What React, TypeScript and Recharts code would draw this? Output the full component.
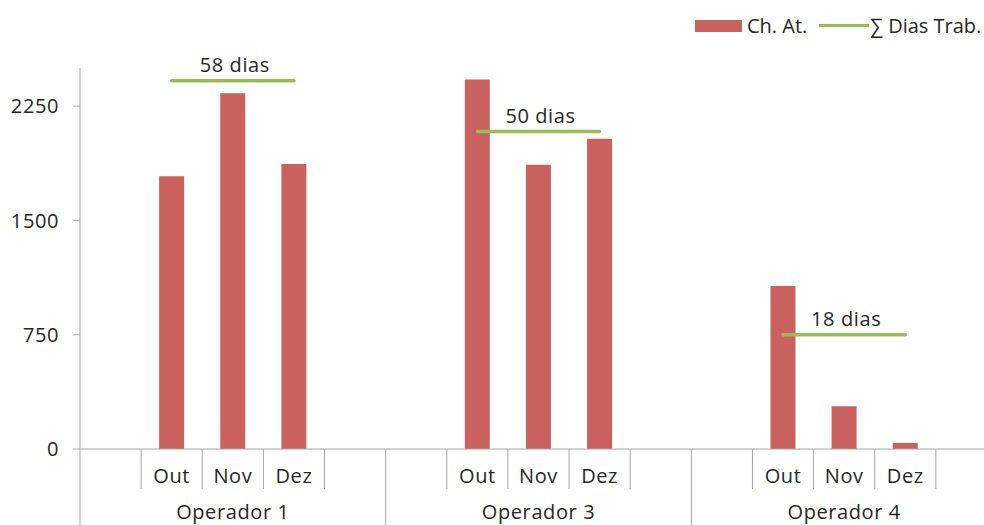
import { ComposedChart, Bar, Line, XAxis, YAxis, LabelList } from "recharts";

const operators = ["Operador 1", "Operador 3", "Operador 4"];
const months = ["Out", "Nov", "Dez"];
// Ch. At. per operator, Out/Nov/Dez
const chAt = [
  [1790, 2335, 1870],
  [2425, 1865, 2035],
  [1070, 280, 40],
];
const diasTrab = [58, 50, 18];
const yTicks = [0, 750, 1500, 2250];

// each operator gets a blank slot on both sides, like the Excel original
const rows = operators.flatMap((op, g) => [
  { key: `${op}-a`, month: "", op, chAt: null as number | null, dias: null as number | null },
  ...months.map((m, i) => ({
    key: `${op}-${m}`,
    month: m,
    op,
    chAt: chAt[g][i] as number | null,
    dias: diasTrab[g] as number | null,
  })),
  { key: `${op}-b`, month: "", op, chAt: null as number | null, dias: null as number | null },
]);

const WIDTH = 1000;
const HEIGHT = 525;
const margin = { top: 68, right: 3, left: 0, bottom: 0 };
const Y_AXIS_W = 80;
const X_AXIS_H = 76;
const BAND = (WIDTH - Y_AXIS_W - margin.left - margin.right) / rows.length;

const FONT = "'Open Sans', sans-serif";
const FS = 20;
const LS = 0.6;
const TEXT = "#262626";
const AXIS = "#A6A6A6";
const RED = "#C9625F";
const GREEN = "#9BBB59";

function GroupTick(props: any) {
  const { x, y, index } = props;
  const row = rows[index];
  const pos = index % 5;
  const left = x - BAND / 2;
  return (
    <g>
      <line x1={left} x2={left} y1={y} y2={pos === 0 ? y + X_AXIS_H : y + 40} stroke={AXIS} />
      {index === rows.length - 1 && (
        <line x1={x + BAND / 2} x2={x + BAND / 2} y1={y} y2={y + X_AXIS_H} stroke={AXIS} />
      )}
      {row.month && (
        <text x={x} y={y + 34} textAnchor="middle" fill={TEXT} fontSize={FS} letterSpacing={LS} fontFamily={FONT}>
          {row.month}
        </text>
      )}
      {pos === 2 && (
        <text x={x} y={y + 70} textAnchor="middle" fill={TEXT} fontSize={FS} letterSpacing={LS} fontFamily={FONT}>
          {row.op}
        </text>
      )}
    </g>
  );
}

function DiasLabel(props: any) {
  const { x, y, value, index } = props;
  if (value == null || index % 5 !== 2) return null;
  return (
    <text x={x + 2} y={y - 9} textAnchor="middle" fill={TEXT} fontSize={FS} letterSpacing={LS} fontFamily={FONT}>
      {`${value} dias`}
    </text>
  );
}

function ChartLegend() {
  return (
    <div
      style={{
        position: "absolute",
        top: 12,
        left: 695,
        display: "flex",
        alignItems: "center",
        fontFamily: FONT,
        fontSize: FS,
        color: TEXT,
        whiteSpace: "nowrap",
      }}
    >
      <span style={{ display: "inline-block", width: 47, height: 12, background: RED, marginRight: 5 }} />
      <span>Ch. At.</span>
      <span style={{ display: "inline-block", width: 50, height: 3, background: GREEN, margin: "0 1px 0 12px" }} />
      <span>∑ Dias Trab.</span>
    </div>
  );
}

export default function App() {
  return (
    <div
      style={{
        position: "fixed",
        top: 0,
        left: 0,
        width: 984,
        height: 525,
        overflow: "hidden",
        background: "#fff",
      }}
    >
      <ComposedChart width={WIDTH} height={HEIGHT} data={rows} margin={margin}>
        <XAxis
          dataKey="key"
          xAxisId={0}
          interval={0}
          height={X_AXIS_H}
          tickSize={0}
          tickMargin={0}
          tickLine={false}
          axisLine={{ stroke: AXIS }}
          tick={<GroupTick />}
        />
        <YAxis
          yAxisId="left"
          width={Y_AXIS_W}
          domain={[0, 2500]}
          ticks={yTicks}
          tickSize={7}
          tickMargin={14}
          axisLine={{ stroke: AXIS }}
          tickLine={{ stroke: AXIS }}
          tick={{ fill: TEXT, fontSize: FS, fontFamily: FONT, letterSpacing: LS }}
        />
        <YAxis yAxisId="right" orientation="right" domain={[0, 60]} hide />
        <Bar yAxisId="left" dataKey="chAt" name="Ch. At." fill={RED} barSize={25} isAnimationActive={false} />
        <Line
          yAxisId="right"
          dataKey="dias"
          name="∑ Dias Trab."
          stroke={GREEN}
          strokeWidth={3.5}
          strokeLinecap="round"
          dot={false}
          activeDot={false}
          connectNulls={false}
          isAnimationActive={false}
        >
          <LabelList dataKey="dias" content={<DiasLabel />} />
        </Line>
      </ComposedChart>
      <ChartLegend />
    </div>
  );
}
